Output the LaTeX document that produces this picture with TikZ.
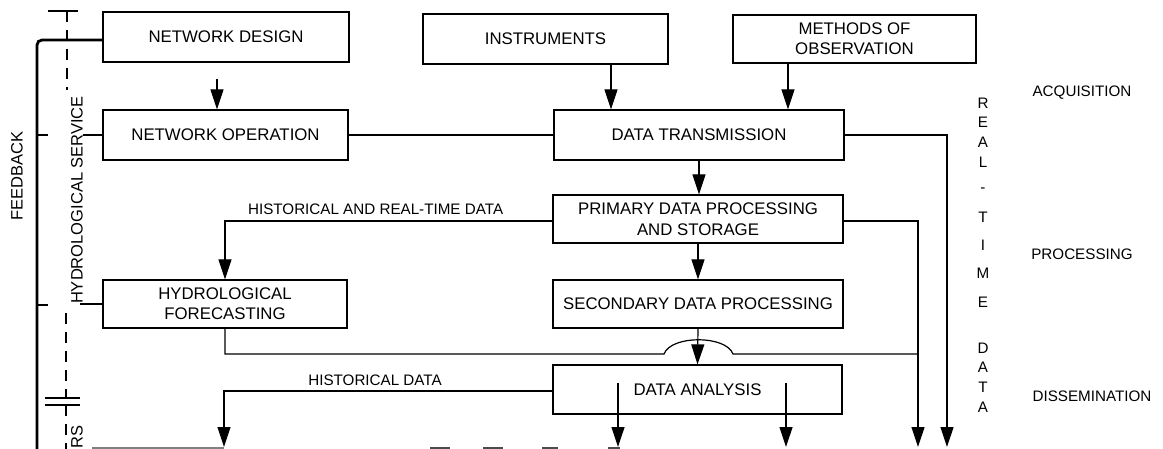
\documentclass[tikz,border=0pt]{standalone}
\usepackage{fontspec}
\setmainfont{Liberation Sans}
\usetikzlibrary{arrows.meta,calc}
\begin{document}
\begin{tikzpicture}[x=1pt,y=-1pt,
  box/.style={draw, line width=1.2pt, minimum height=50pt, inner sep=0pt, align=center, font=\fontsize{16.8}{20}\selectfont},
  lbl/.style={font=\fontsize{15.2}{18}\selectfont, inner sep=0pt},
  vlbl/.style={font=\fontsize{16.5}{20}\selectfont, inner sep=0pt, rotate=90},
  conn/.style={line width=1.2pt},
  arr/.style={conn, -{Triangle[length=20pt,width=13pt]}},
  fbline/.style={line width=2.8pt},
  dashline/.style={line width=1.2pt, dash pattern=on 11pt off 8pt},
]
\useasboundingbox (0,0) rectangle (1163,449);
\clip (0,0) rectangle (1163,449);

% boxes
\node[box, minimum width=246pt] (nd) at (226,37) {NETWORK DESIGN};
\node[box, minimum width=245pt] (ins) at (545.5,39) {INSTRUMENTS};
\node[box, minimum width=243pt, minimum height=48pt] (met) at (854.5,39) {METHODS OF\\OBSERVATION};
\node[box, minimum width=245pt] (no) at (225.5,135) {NETWORK OPERATION};
\node[box, minimum width=290pt] (dt) at (699,135) {DATA TRANSMISSION};
\node[box, minimum width=290pt, minimum height=48pt, font=\fontsize{16.8}{21}\selectfont] (pdp) at (698,219) {PRIMARY DATA PROCESSING\\AND STORAGE};
\node[box, minimum width=244pt, minimum height=48pt] (hf) at (225,304) {HYDROLOGICAL\\FORECASTING};
\node[box, minimum width=290pt, minimum height=48pt] (sdp) at (698,304) {SECONDARY DATA PROCESSING};
\node[box, minimum width=289pt, minimum height=49pt] (da) at (697.5,389.5) {DATA ANALYSIS};

% helper coordinates
\coordinate (xnd) at (217,0);
\coordinate (xin) at (611,0);
\coordinate (xme) at (788,0);
\coordinate (xr1) at (947,0);
\coordinate (xr2) at (918,0);
\coordinate (xl) at (224,0);
\coordinate (xd1) at (618,0);
\coordinate (xd2) at (786,0);
\coordinate (ybot) at (0,447);
\coordinate (yh) at (0,354);
\coordinate (yd) at (0,383);
\coordinate (bumpL) at (664,354);
\coordinate (bumpR) at (733,354);

% connectors top
\draw[arr] ($(xnd |- nd.south)+(0,16)$) -- (xnd |- no.north);
\draw[arr] (xin |- ins.south) -- (xin |- dt.north);
\draw[arr] (xme |- met.south) -- (xme |- dt.north);
\draw[conn] (no.east) -- (dt.west);
\draw[arr] (dt.east) -- (dt.east -| xr1) -- (xr1 |- ybot);
\draw[arr] (dt.south) -- (dt.south |- pdp.north);
\draw[arr] ([yshift=-2pt]pdp.east) -- ([yshift=-2pt]pdp.east -| xr2) -- (xr2 |- ybot);
\draw[arr] ([yshift=-2pt]pdp.west) -| node[lbl, pos=0.27, above=6pt] (lhr) {HISTORICAL AND REAL-TIME DATA} (hf.north);
\draw[arr] (pdp.south) -- (sdp.north);
\draw[arr] (sdp.south) -- (da.north);
\draw[conn] (hf.south) -- (hf.south |- yh) -- (bumpL) .. controls (671,335) and (726,335) .. (bumpR) -- (xr2 |- yh);
\draw[arr] ([yshift=-1.5pt]da.west) -| node[lbl, pos=0.27, above=5pt] (lhd) {HISTORICAL DATA} (xl |- ybot);
\draw[arr] (xd1 |- yd) -- (xd1 |- ybot);
\draw[arr] (xd2 |- yd) -- (xd2 |- ybot);

% bottom fragments
\draw[gray, line width=1.2pt] (92,448) -- (xl |- 0,448);
\draw[black!70, line width=1.6pt] (430,448) -- (450,448);
\draw[black!70, line width=1.6pt] (483,448) -- (503,448);
\draw[black!70, line width=1.6pt] (542,448) -- (558,448);
\draw[black!70, line width=1.6pt] (608,448) -- (620,448);

% feedback line
\coordinate (fbtop) at (37,40);
\draw[fbline, rounded corners=5pt] (nd.west |- fbtop) -- (fbtop) -- (37,460);
\draw[conn] (37,135) -- (48,135);
\draw[conn] (37,305) -- (48,305);
\draw[conn] (83,135) -- (no.west);
\draw[conn] (80,304) -- (hf.west);
\node[vlbl] (fb) at (17,176) {FEEDBACK};

% hydrological service range
\draw[conn] (48,11) -- (78,11);
\draw[dashline] (67,11) -- (67,90);
\node[vlbl] (hs) at (77,200) {HYDROLOGICAL SERVICE};
\draw[dashline] (66,313) -- (66,398);
\draw[conn] (45,398) -- (80,398);
\draw[conn] (45,405) -- (80,405);
\draw[dashline] (66,405) -- (66,452);
\node[vlbl] (us) at (77,437) {RS};

% right labels
\node[lbl] (acq) at (1082,93) {ACQUISITION};
\node[lbl] (pro) at (1082,254) {PROCESSING};
\node[lbl] (dis) at (1092,396) {DISSEMINATION};
\foreach \l/\yy in {R/103,E/122,A/142,L/162,-/190,T/217,I/245,M/273,E/302,D/348,A/367,T/387,A/407}
  \node[lbl] (rt\yy) at (983,\yy) {\l};
\end{tikzpicture}
\end{document}
